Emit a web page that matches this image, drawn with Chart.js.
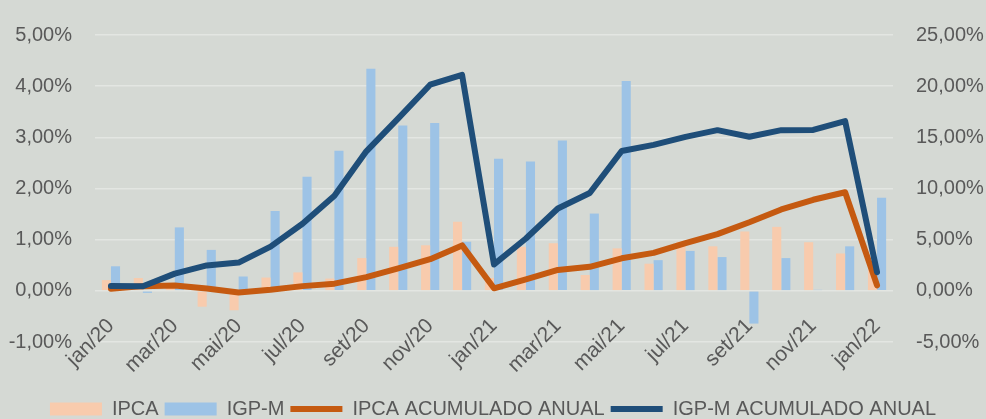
<!DOCTYPE html>
<html lang="pt-BR">
<head>
<meta charset="utf-8">
<title>IPCA x IGP-M</title>
<script src="https://cdn.jsdelivr.net/npm/chart.js@4.4.0/dist/chart.umd.min.js"></script>
<style>
  html, body {
    margin: 0;
    padding: 0;
    background: #d5d9d4;
  }
  #wrap {
    position: relative;
    width: 986px;
    height: 419px;
  }
</style>
</head>
<body>
<div id="wrap"><canvas id="inflacaoChart"></canvas></div>
<script>
// Meses
const meses = ['jan/20', 'fev/20', 'mar/20', 'abr/20', 'mai/20', 'jun/20', 'jul/20', 'ago/20', 'set/20', 'out/20', 'nov/20', 'dez/20',
  'jan/21', 'fev/21', 'mar/21', 'abr/21', 'mai/21', 'jun/21', 'jul/21', 'ago/21', 'set/21', 'out/21', 'nov/21', 'dez/21', 'jan/22'];

// Variação mensal (%)
const ipca = [0.21, 0.25, 0.07, -0.31, -0.38, 0.26, 0.36, 0.24, 0.64, 0.86, 0.89, 1.35,
  0.25, 0.86, 0.93, 0.31, 0.83, 0.53, 0.96, 0.87, 1.16, 1.25, 0.95, 0.73, 0.54];
const igpm = [0.48, -0.04, 1.24, 0.80, 0.28, 1.56, 2.23, 2.74, 4.34, 3.23, 3.28, 0.96,
  2.58, 2.53, 2.94, 1.51, 4.10, 0.60, 0.78, 0.66, -0.64, 0.64, 0.02, 0.87, 1.82];

// Acumulado no ano (%), eixo da direita
const ipcaAcum = [0.21, 0.46, 0.53, 0.22, -0.16, 0.10, 0.46, 0.70, 1.34, 2.20, 3.09, 4.44,
  0.25, 1.11, 2.04, 2.35, 3.18, 3.71, 4.67, 5.54, 6.70, 7.95, 8.90, 9.63, 0.54];
const igpmAcum = [0.48, 0.44, 1.68, 2.48, 2.76, 4.32, 6.55, 9.29, 13.63, 16.86, 20.14, 21.10,
  2.58, 5.11, 8.05, 9.56, 13.66, 14.26, 15.04, 15.70, 15.06, 15.70, 15.72, 16.59, 1.82];

// Limites dos eixos
const eixoEsq = { min: -1, max: 5, passo: 1 };
const eixoDir = { min: -5, max: 25, passo: 5 };

const corTexto = '#595959';
const fonte = { family: '"Liberation Sans", Arial, sans-serif', size: 20 };
const fonteMeses = { family: '"Liberation Sans", Arial, sans-serif', size: 21 };

function formatoPct(v) {
  return v.toFixed(2).replace('.', ',') + '%';
}

const ctx = document.getElementById('inflacaoChart');

new Chart(ctx, {
  type: 'bar',
  data: {
    labels: meses,
    datasets: [
      {
        label: 'IPCA',
        data: ipca,
        yAxisID: 'y',
        backgroundColor: '#f8cbad',
        borderWidth: 0,
        pointStyle: 'rect',
        order: 2
      },
      {
        label: 'IGP-M',
        data: igpm,
        yAxisID: 'y',
        backgroundColor: '#9dc3e6',
        borderWidth: 0,
        pointStyle: 'rect',
        order: 2
      },
      {
        type: 'line',
        label: 'IPCA ACUMULADO ANUAL',
        data: ipcaAcum,
        yAxisID: 'y1',
        borderColor: '#c55a11',
        backgroundColor: '#c55a11',
        borderWidth: 6,
        borderCapStyle: 'round',
        borderJoinStyle: 'round',
        pointRadius: 0,
        pointStyle: 'line',
        tension: 0,
        order: 1
      },
      {
        type: 'line',
        label: 'IGP-M ACUMULADO ANUAL',
        data: igpmAcum,
        yAxisID: 'y1',
        borderColor: '#1f4e79',
        backgroundColor: '#1f4e79',
        borderWidth: 6,
        borderCapStyle: 'round',
        borderJoinStyle: 'round',
        pointRadius: 0,
        pointStyle: 'line',
        tension: 0,
        order: 0
      }
    ]
  },
  options: {
    responsive: true,
    maintainAspectRatio: false,
    animation: false,
    categoryPercentage: 0.57,
    barPercentage: 1,
    layout: {
      padding: { top: 22, bottom: -10, left: 0, right: 0 }
    },
    scales: {
      // eixo das categorias cruzando no 0% do eixo da esquerda (como no Excel)
      x: {
        axis: 'x',
        position: { y: 0 },
        grid: { display: false, drawTicks: false },
        border: { display: false },
        ticks: {
          color: corTexto,
          font: fonteMeses,
          autoSkip: false,
          minRotation: 45,
          maxRotation: 45,
          padding: 23,
          callback: function (value, index) {
            return index % 2 === 0 ? this.getLabelForValue(value) : '';
          }
        }
      },
      // eixo vazio só para reservar o espaço dos rótulos acima da legenda
      xEspaco: {
        type: 'category',
        axis: 'x',
        position: 'bottom',
        grid: { display: false, drawTicks: false },
        border: { display: false },
        ticks: { display: false },
        afterFit: (scale) => { scale.height = 51; }
      },
      y: {
        position: 'left',
        min: eixoEsq.min,
        max: eixoEsq.max,
        grid: {
          color: '#e3e6e2',
          lineWidth: 1.5,
          drawTicks: false
        },
        border: { display: false },
        ticks: {
          stepSize: eixoEsq.passo,
          color: corTexto,
          font: fonte,
          padding: 23,
          callback: (v) => formatoPct(v)
        },
        afterFit: (scale) => { scale.width = 95; }
      },
      y1: {
        position: 'right',
        min: eixoDir.min,
        max: eixoDir.max,
        grid: { drawOnChartArea: false, drawTicks: false },
        border: { display: false },
        ticks: {
          stepSize: eixoDir.passo,
          color: corTexto,
          font: fonte,
          padding: 23,
          callback: (v) => formatoPct(v)
        },
        afterFit: (scale) => { scale.width = 93; }
      }
    },
    plugins: {
      legend: {
        position: 'bottom',
        labels: {
          color: corTexto,
          font: fonte,
          usePointStyle: true,
          pointStyleWidth: 52,
          boxHeight: 13,
          padding: 6,
          sort: (a, b) => a.datasetIndex - b.datasetIndex
        }
      },
      tooltip: { enabled: false }
    }
  }
});
</script>
</body>
</html>
